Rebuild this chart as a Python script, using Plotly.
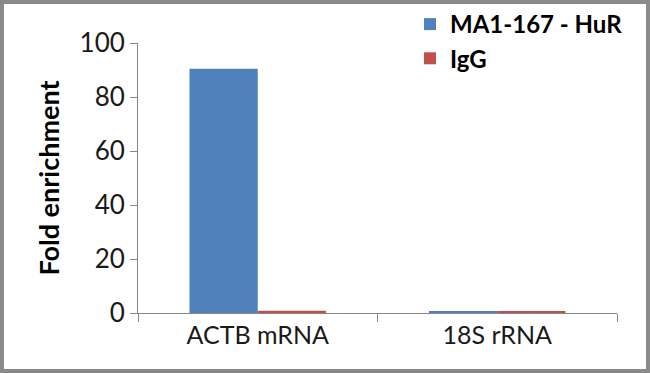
import plotly.graph_objects as go

categories = ["ACTB mRNA", "18S rRNA"]
hur_values = [90.5, 0.7]
igg_values = [0.8, 0.7]
series_names = ["MA1-167 - HuR", "IgG"]
y_ticks = [0, 20, 40, 60, 80, 100]

FONT = "Lato"
fig = go.Figure()
fig.add_trace(go.Bar(x=categories, y=hur_values, name=series_names[0],
                     marker=dict(color="#4f81bd", line=dict(width=0))))
fig.add_trace(go.Bar(x=categories, y=igg_values, name=series_names[1],
                     marker=dict(color="#c0504d", line=dict(width=0))))

W, H = 650, 373
L, R, T, B = 138, 33, 43, 60
pw, ph = W - L - R, H - T - B

fig.update_layout(
    width=W, height=H,
    margin=dict(l=L, r=R, t=T, b=B, autoexpand=False),
    paper_bgcolor="white", plot_bgcolor="white",
    barmode="group", bargap=0.43, bargroupgap=0,
    font=dict(family=FONT, color="#1a1a1a"),
    legend=dict(x=(410 - L) / pw, xanchor="left", y=1 + (T - 2) / ph, yanchor="top",
                font=dict(family=FONT, size=24, color="black", weight="bold"),
                bgcolor="rgba(0,0,0,0)", tracegroupgap=0, itemwidth=30),
    xaxis=dict(showline=True, linecolor="#888888", linewidth=1,
               ticks="outside", tickson="boundaries", ticklen=8, tickcolor="#888888",
               tickfont=dict(family=FONT, size=25, color="#1a1a1a"),
               showgrid=False),
    yaxis=dict(range=[0, 100], tickvals=y_ticks, showline=True, linecolor="#888888",
               linewidth=1, ticks="outside", ticklen=7, tickcolor="#888888",
               tickfont=dict(family=FONT, size=26, color="#1a1a1a"),
               showgrid=False, zeroline=False,
               title=dict(text="Fold enrichment", standoff=12,
                          font=dict(family=FONT, size=27, color="black", weight="bold"))),
    shapes=[dict(type="rect", xref="paper", yref="paper",
                 x0=-(L - 2) / pw, x1=1 + (R - 2) / pw,
                 y0=-(B - 2) / ph, y1=1 + (T - 2) / ph,
                 line=dict(color="#8a8a8a", width=4), fillcolor="rgba(0,0,0,0)",
                 layer="above")],
)
fig.write_html("out.html", config={"displayModeBar": False},
               post_script="document.body.style.margin='0';document.body.style.overflow='hidden';")
